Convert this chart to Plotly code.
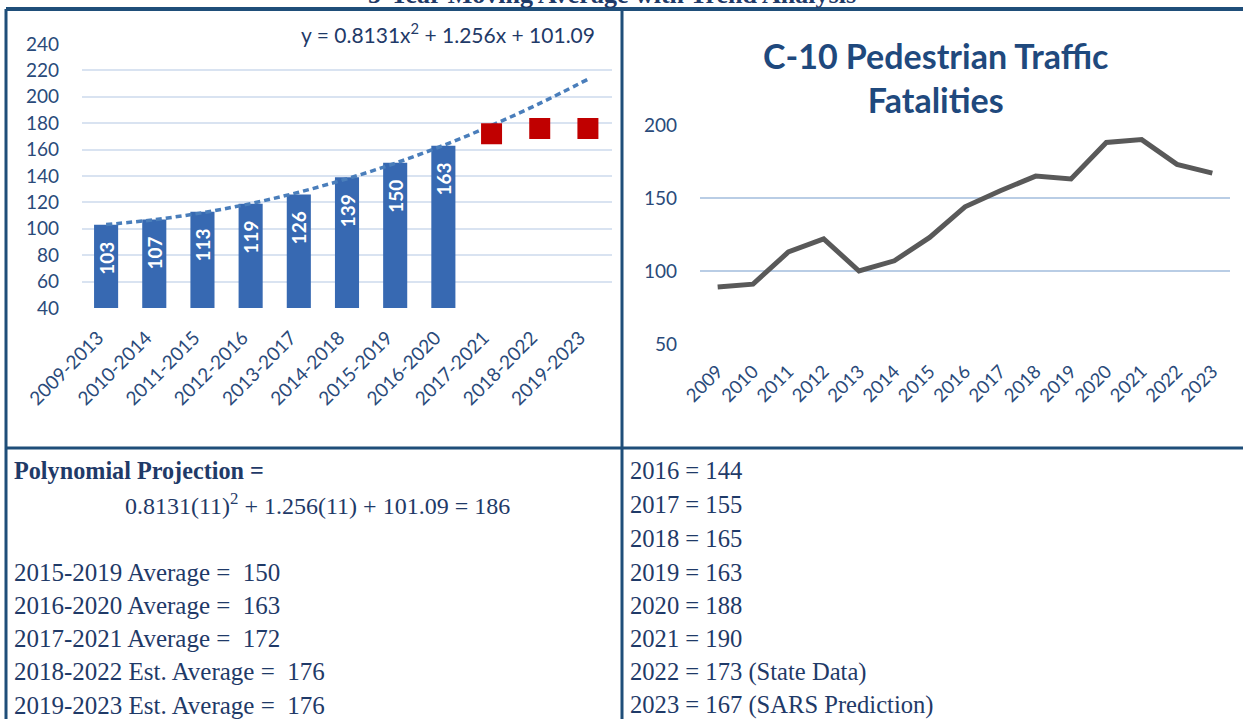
import plotly.graph_objects as go

W, H = 1243, 719

# ---------------- data ----------------
periods = ["2009-2013", "2010-2014", "2011-2015", "2012-2016", "2013-2017", "2014-2018",
           "2015-2019", "2016-2020", "2017-2021", "2018-2022", "2019-2023"]
moving_avg = [103, 107, 113, 119, 126, 139, 150, 163]            # bars
projected_periods = ["2017-2021", "2018-2022", "2019-2023"]
projected_avg = [172, 176, 176]                                   # red squares
trend_values = [103.2, 106.9, 112.2, 119.1, 127.7, 137.9, 149.7, 163.2, 178.3, 195.0, 213.3]
trend_equation = "y = 0.8131x<sup>2</sup> + 1.256x + 101.09"

years = ["2009", "2010", "2011", "2012", "2013", "2014", "2015", "2016",
         "2017", "2018", "2019", "2020", "2021", "2022", "2023"]
fatalities = [89, 91, 113, 122, 100, 107, 123, 144, 155, 165, 163, 188, 190, 173, 167]

left_ticks = [40, 60, 80, 100, 120, 140, 160, 180, 200, 220, 240]
right_ticks = [50, 100, 150, 200]

main_title = "5-Year Moving Average with Trend Analysis"
right_title = "C-10 Pedestrian Traffic<br>Fatalities"
projection_head = "Polynomial Projection ="
projection_formula = "0.8131(11)<sup>2</sup> + 1.256(11) + 101.09 = 186"
avg_labels = ["2015-2019 Average = ", "2016-2020 Average = ", "2017-2021 Average = ",
              "2018-2022 Est. Average = ", "2019-2023 Est. Average = "]
avg_values = [150, 163, 172, 176, 176]
year_labels = ["2016", "2017", "2018", "2019", "2020", "2021", "2022", "2023"]
year_values = [144, 155, 165, 163, 188, 190, 173, 167]
year_notes = ["", "", "", "", "", "", " (State Data)", " (SARS Prediction)"]

# ---------------- helpers ----------------
def px(x):
    return x / W

def py(y):
    return 1 - y / H

NAVY = "#1F3A68"
TICK = "#2A4A7A"
SANS = "Lato"
SERIF = "Liberation Serif"

fig = go.Figure()

# left: bars
fig.add_trace(go.Bar(
    x=periods[:len(moving_avg)], y=moving_avg,
    marker=dict(color="#3769B2", line=dict(width=0)),
    width=0.5,
    text=[f"{v}\u00a0\u00a0\u00a0" for v in moving_avg],
    textposition="inside", insidetextanchor="end", textangle=-90,
    constraintext="none",
    textfont=dict(family=SANS, size=19, color="white", weight="bold"),
    xaxis="x", yaxis="y", showlegend=False, hoverinfo="skip",
))
# trendline
fig.add_trace(go.Scatter(
    x=periods, y=trend_values, mode="lines", line_shape="spline",
    line=dict(color="#4A7EBB", width=3.5, dash="6px,4px"),
    xaxis="x", yaxis="y", showlegend=False, hoverinfo="skip",
))
# projected squares
fig.add_trace(go.Scatter(
    x=projected_periods, y=projected_avg, mode="markers",
    marker=dict(symbol="square", size=21, color="#C00000"),
    xaxis="x", yaxis="y", showlegend=False, hoverinfo="skip",
))

# right: line
fig.add_trace(go.Scatter(
    x=years, y=fatalities, mode="lines",
    line=dict(color="#595959", width=5),
    xaxis="x2", yaxis="y2", showlegend=False, hoverinfo="skip",
))

fig.update_layout(
    width=W, height=H,
    margin=dict(l=0, r=0, t=0, b=0, autoexpand=False),
    paper_bgcolor="white", plot_bgcolor="white",
    xaxis=dict(domain=[px(82), px(612)], categoryorder="array", categoryarray=periods,
               range=[-0.5, len(periods) - 0.5], automargin=False,
               tickangle=-45, tickfont=dict(family=SANS, size=19, color=TICK),
               showgrid=False, showline=False, ticks="", ticklabelstandoff=14,
               ticklabelshift=-8),
    yaxis=dict(domain=[py(308), py(44)], range=[40, 240], tickvals=left_ticks, automargin=False,
               tickfont=dict(family=SANS, size=19, color=TICK),
               gridcolor="#D9E3F1", gridwidth=2, zeroline=False, showline=False,
               ticks="", ticklabelstandoff=22),
    xaxis2=dict(domain=[px(700), px(1230)], anchor="y2", categoryorder="array",
                categoryarray=years, range=[-0.5, len(years) - 0.5], automargin=False,
                tickangle=-45, tickfont=dict(family=SANS, size=18.5, color=TICK),
                showgrid=False, showline=False, ticks="", ticklabelstandoff=12),
    yaxis2=dict(domain=[py(344), py(125)], anchor="x2", range=[50, 200], tickvals=right_ticks,
                automargin=False,
                tickfont=dict(family=SANS, size=19, color=TICK),
                gridcolor="#B9CDE5", gridwidth=1.5, zeroline=False, showline=False,
                ticks="", ticklabelstandoff=22),
)

ann = []
# clipped main title at very top
ann.append(dict(text=f"<b>{main_title}</b>", x=px(612), y=py(-6), xref="paper", yref="paper",
                xanchor="center", yanchor="middle", showarrow=False,
                font=dict(family=SERIF, size=26, color=NAVY)))
# equation
ann.append(dict(text=trend_equation, x=px(299), y=py(33), xref="paper", yref="paper",
                xanchor="left", yanchor="middle", showarrow=False,
                font=dict(family=SANS, size=21, color=NAVY)))
# right title
ann.append(dict(text=f"<b>{right_title}</b>", x=px(936), y=py(78), xref="paper", yref="paper",
                xanchor="center", yanchor="middle", showarrow=False,
                font=dict(family=SANS, size=34, color="#1F497D")))
# left table
ann.append(dict(text=f"<b>{projection_head}</b>", x=px(12), y=py(470), xref="paper", yref="paper",
                xanchor="left", yanchor="middle", showarrow=False,
                font=dict(family=SERIF, size=24.2, color=NAVY)))
ann.append(dict(text=projection_formula, x=px(317), y=py(504), xref="paper", yref="paper",
                xanchor="center", yanchor="middle", showarrow=False,
                font=dict(family=SERIF, size=24, color=NAVY)))
avg_y = [572, 605, 638, 671, 705]
for lab, val, yy in zip(avg_labels, avg_values, avg_y):
    ann.append(dict(text=f"{lab}\u00a0{val}", x=px(12), y=py(yy), xref="paper", yref="paper",
                    xanchor="left", yanchor="middle", showarrow=False,
                    font=dict(family=SERIF, size=25, color=NAVY)))
# right table
yr_y = [470, 504, 538, 572, 605, 638, 672, 705]
for lab, val, note, yy in zip(year_labels, year_values, year_notes, yr_y):
    ann.append(dict(text=f"{lab} = {val}{note}", x=px(628), y=py(yy), xref="paper", yref="paper",
                    xanchor="left", yanchor="middle", showarrow=False,
                    font=dict(family=SERIF, size=24.6, color=NAVY)))
fig.update_layout(annotations=ann)

BORDER = "#1F4E79"
shapes = [
    dict(type="line", x0=px(6), x1=1, y0=py(9), y1=py(9), line=dict(color=BORDER, width=4)),
    dict(type="line", x0=px(6), x1=px(6), y0=py(9), y1=0, line=dict(color=BORDER, width=3)),
    dict(type="line", x0=px(622), x1=px(622), y0=py(9), y1=0, line=dict(color=BORDER, width=3)),
    dict(type="line", x0=px(6), x1=1, y0=py(448), y1=py(448), line=dict(color=BORDER, width=3)),
]
for s in shapes:
    s.update(xref="paper", yref="paper")
fig.update_layout(shapes=shapes)

fig.write_html("out.html", config={"displayModeBar": False},
               post_script="document.body.style.margin='0px';")
